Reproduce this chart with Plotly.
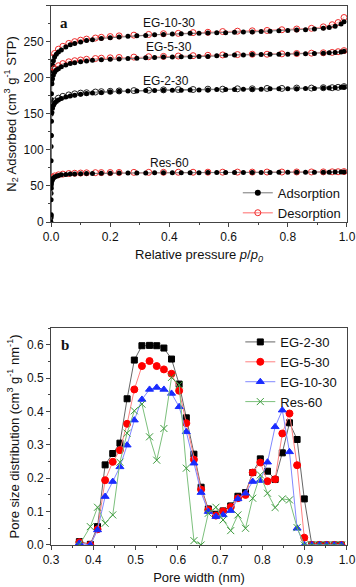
import plotly.graph_objects as go

# ---- panel a: N2 isotherms ----
p_ads = [0.00001, 0.0001, 0.0003, 0.0008, 0.0015, 0.003, 0.005, 0.008, 0.012, 0.018,
         0.025, 0.035, 0.05, 0.065, 0.08, 0.10, 0.12, 0.14, 0.17, 0.20, 0.23, 0.26,
         0.29, 0.32, 0.35, 0.38, 0.41, 0.44, 0.47, 0.50, 0.53, 0.56, 0.59, 0.62, 0.65,
         0.68, 0.71, 0.74, 0.77, 0.80, 0.83, 0.86, 0.89, 0.92, 0.94, 0.96, 0.98, 0.99]
ads_eg10 = [10, 60, 120, 170, 195, 210, 218, 224, 229, 233, 236, 239, 243, 246, 248, 250,
            252, 253, 255, 256, 257, 258, 258.5, 259, 260, 260.5, 261, 261.5, 262, 262,
            262.5, 263, 263, 263.5, 264, 264, 264.5, 265, 265.5, 266, 266.5, 267, 268,
            269, 270, 272, 275, 278]
ads_eg5 = [8, 50, 105, 150, 178, 192, 199, 204, 208, 211, 213, 215.5, 218, 220, 221, 222.5,
           223.5, 224.5, 225.5, 226, 226.5, 227, 227.5, 228, 228.5, 229, 229, 229.5, 229.5,
           230, 230, 231, 231.5, 232, 232, 232.5, 232.5, 233, 233, 233, 233.5, 233.5, 234,
           234.5, 235, 235.5, 236, 237]
ads_eg2 = [6, 40, 85, 120, 140, 152, 158, 162, 165, 167.5, 169.5, 171.5, 173.5, 175, 176,
           177.5, 178.5, 179, 180, 181, 181.5, 182, 182, 182.5, 182.5, 183, 183, 183, 183.5,
           183.5, 183.5, 184, 184, 184, 184.5, 184.5, 184.5, 185, 185, 185, 185, 185.5,
           185.5, 186, 186, 186.5, 187, 187.5]
ads_res = [0, 10, 31, 47, 53, 57, 59, 61, 62.5, 63.5, 64.5, 65.5, 66, 66.5, 66.8, 67, 67.2,
           67.4, 67.6, 67.8, 68, 68, 68.1, 68.2, 68.3, 68.3, 68.4, 68.4, 68.5, 68.5, 68.6,
           68.6, 68.7, 68.7, 68.8, 68.8, 68.9, 68.9, 69, 69, 69, 69.1, 69.1, 69.2, 69.2,
           69.3, 69.4, 69.5]

p_des = [0.99, 0.97, 0.95, 0.92, 0.88, 0.83, 0.78, 0.73, 0.68, 0.63, 0.58, 0.53, 0.48,
         0.43, 0.38, 0.33, 0.28, 0.23, 0.20, 0.17, 0.15, 0.12, 0.10, 0.08, 0.06, 0.04,
         0.025, 0.012, 0.005]
des_eg10 = [284, 277, 274, 271, 269, 268, 267, 266, 265.5, 265, 264.5, 263.5, 263, 262,
            261.5, 260.5, 259.5, 258.5, 257.5, 256.5, 255.5, 254, 252.5, 250.5, 248, 244,
            240, 234, 228]
des_eg5 = [238, 236.5, 235.5, 235, 234.5, 234, 233.5, 233, 233, 232.5, 232, 231.5, 231,
           230.5, 230, 229.5, 229, 228.5, 228, 227.5, 227, 226, 225, 224, 222.5, 220, 217,
           213, 208]
des_eg2 = [188, 187, 186.5, 186.5, 186, 186, 185.5, 185.5, 185, 185, 184.5, 184.5, 184, 184,
           183.5, 183, 182.5, 182, 181.5, 181, 180.5, 179.5, 179, 178, 176.5, 174.5, 172,
           168, 163]
des_res = [70, 69.8, 69.7, 69.6, 69.5, 69.5, 69.4, 69.4, 69.3, 69.3, 69.2, 69.2, 69.1, 69.1,
           69, 69, 68.9, 68.8, 68.7, 68.6, 68.5, 68.3, 68, 67.7, 67.3, 66.5, 65.5, 64, 62]

iso_names = ["EG-10-30", "EG-5-30", "EG-2-30", "Res-60"]
iso_label_pos = [(0.40, 277), (0.40, 243), (0.39, 196), (0.40, 82)]

# ---- panel b: pore size distribution ----
pore_w = [0.367, 0.393, 0.410, 0.428, 0.446, 0.463, 0.480, 0.497, 0.515, 0.533, 0.550,
          0.567, 0.585, 0.603, 0.620, 0.638, 0.655, 0.672, 0.690, 0.707, 0.725, 0.742,
          0.760, 0.777, 0.795, 0.812, 0.830, 0.847, 0.864, 0.882, 0.899, 0.917, 0.935,
          0.952, 0.970, 0.987]
psd_eg2 = [0.01, 0.002, 0.055, 0.24, 0.274, 0.305, 0.438, 0.554, 0.597, 0.598, 0.597, 0.59,
           0.557, 0.482, 0.381, 0.272, 0.173, 0.108, 0.092, 0.102, 0.117, 0.146, 0.157,
           0.217, 0.258, 0.221, 0.196, 0.276, 0.366, 0.316, 0.138, 0.0, 0.0, 0.0, 0.0, 0.0]
psd_eg5 = [0.008, 0.0, 0.047, 0.194, 0.249, 0.284, 0.363, 0.466, 0.536, 0.551, 0.536, 0.526,
           0.513, 0.462, 0.365, 0.256, 0.166, 0.105, 0.088, 0.101, 0.114, 0.140, 0.150,
           0.217, 0.247, 0.191, 0.197, 0.334, 0.394, 0.239, 0.022, 0.0, 0.0, 0.0, 0.0, 0.0]
psd_eg10 = [0.005, 0.0, 0.045, 0.145, 0.19, 0.234, 0.299, 0.374, 0.436, 0.466, 0.472, 0.466,
            0.454, 0.414, 0.339, 0.245, 0.157, 0.100, 0.085, 0.090, 0.103, 0.138, 0.155,
            0.190, 0.193, 0.248, 0.354, 0.404, 0.279, 0.05, 0.0, 0.0, 0.0, 0.0, 0.0, 0.0]
psd_res = [0.0, 0.055, 0.113, 0.065, 0.09, 0.248, 0.335, 0.402, 0.422, 0.324, 0.254, 0.349,
           0.502, 0.48, 0.23, 0.013, 0.0, 0.095, 0.113, 0.075, 0.043, 0.09, 0.05, 0.14,
           0.21, 0.155, 0.112, 0.138, 0.135, 0.052, 0.0, 0.0, 0.0, 0.0, 0.0, 0.0]

fig = go.Figure()

# isotherms: adsorption (filled) and desorption (open)
ads_sets = [ads_eg10, ads_eg5, ads_eg2, ads_res]
des_sets = [des_eg10, des_eg5, des_eg2, des_res]
des_edge = ["#ee2a2a", "#ee2a2a", "#222222", "#ee2a2a"]
des_line = ["#ff9c9c", "#ff9c9c", "#888888", "#ff9c9c"]
for i, name in enumerate(iso_names):
    fig.add_trace(go.Scatter(
        x=p_des, y=des_sets[i], mode="lines+markers",
        line=dict(color=des_line[i], width=1),
        marker=dict(symbol="circle-open", size=6, color=des_edge[i], line=dict(width=1)),
        name="Desorption", showlegend=False, xaxis="x", yaxis="y"))
    fig.add_trace(go.Scatter(
        x=p_ads, y=ads_sets[i], mode="lines+markers",
        line=dict(color="#777777", width=1),
        marker=dict(symbol="circle", size=5, color="#000000"),
        name="Adsorption", showlegend=False, xaxis="x", yaxis="y"))

# legend entries for panel a
fig.add_trace(go.Scatter(x=[None], y=[None], mode="lines+markers", name="Adsorption",
                         line=dict(color="#777777", width=1),
                         marker=dict(symbol="circle", size=6, color="#000000"),
                         legend="legend", xaxis="x", yaxis="y"))
fig.add_trace(go.Scatter(x=[None], y=[None], mode="lines+markers", name="Desorption",
                         line=dict(color="#ff9c9c", width=1.5),
                         marker=dict(symbol="circle-open", size=6, color="#ee2a2a"),
                         legend="legend", xaxis="x", yaxis="y"))

# PSD
psd_sets = [psd_eg2, psd_eg5, psd_eg10, psd_res]
psd_names = ["EG-2-30", "EG-5-30", "EG-10-30", "Res-60"]
psd_symbols = ["square", "circle", "triangle-up", "x-thin-open"]
psd_colors = ["#000000", "#ff0000", "#1a2cff", "#3c9a3c"]
psd_lines = ["#666666", "#ff8080", "#8088ff", "#7cc07c"]
psd_sizes = [6, 7, 7, 7]
for i in range(4):
    fig.add_trace(go.Scatter(
        x=pore_w, y=psd_sets[i], mode="lines+markers", name=psd_names[i],
        line=dict(color=psd_lines[i], width=1),
        marker=dict(symbol=psd_symbols[i], size=psd_sizes[i], color=psd_colors[i],
                    line=dict(width=1, color=psd_colors[i])),
        legend="legend2", xaxis="x2", yaxis="y2"))

axis_common = dict(showline=True, linecolor="#444444", linewidth=1, mirror=True,
                   ticks="outside", ticklen=4, tickcolor="#444444", showgrid=False,
                   zeroline=False, automargin=False,
                   tickfont=dict(family="Liberation Sans", size=12, color="#111"),
                   title_font=dict(family="Liberation Sans", size=13, color="#111"))

fig.update_layout(
    width=356, height=587,
    margin=dict(l=0, r=0, t=0, b=0),
    paper_bgcolor="white", plot_bgcolor="white",
    xaxis=dict(domain=[0.1433, 0.9747], anchor="y", range=[0, 1.0], dtick=0.2,
               tickformat=".1f", minor=dict(ticks="outside", ticklen=2, dtick=0.1,
                                            tickcolor="#444444"),
               title=dict(text="Relative pressure <i>p</i>/<i>p<sub>0</sub></i>", standoff=6),
               **axis_common),
    yaxis=dict(domain=[0.6218, 0.9898], anchor="x", range=[0, 300], dtick=50,
               minor=dict(ticks="outside", ticklen=2, dtick=25, tickcolor="#444444"),
               title=dict(text="N<sub>2</sub> Adsorbed (cm<sup>3</sup> g<sup>-1</sup> STP)",
                          standoff=4),
               **axis_common),
    xaxis2=dict(domain=[0.1433, 0.9747], anchor="y2", range=[0.3, 1.0], dtick=0.1,
                tickformat=".1f", minor=dict(ticks="outside", ticklen=2, dtick=0.05,
                                             tickcolor="#444444"),
                title=dict(text="Pore width (nm)", standoff=6),
                **axis_common),
    yaxis2=dict(domain=[0.0716, 0.4412], anchor="x2", range=[0, 0.65], dtick=0.1,
                tickformat=".1f", minor=dict(ticks="outside", ticklen=2, dtick=0.05,
                                             tickcolor="#444444"),
                title=dict(text="Pore size distribution (cm<sup>3</sup> g<sup>-1</sup> nm<sup>-1</sup>)",
                           standoff=4),
                **axis_common),
    legend=dict(x=0.668, y=0.697, xanchor="left", yanchor="top", bgcolor="rgba(0,0,0,0)",
                font=dict(family="Liberation Sans", size=13, color="#111"),
                itemwidth=30, tracegroupgap=0),
    legend2=dict(x=0.675, y=0.443, xanchor="left", yanchor="top", bgcolor="rgba(0,0,0,0)",
                 font=dict(family="Liberation Sans", size=13, color="#111"),
                 itemwidth=30, tracegroupgap=0),
)

# sample labels on the isotherms
for name, (px_, py_) in zip(iso_names, iso_label_pos):
    fig.add_annotation(x=px_, y=py_, xref="x", yref="y", text=name, showarrow=False,
                       font=dict(family="Liberation Sans", size=12, color="#111"))

# panel letters
fig.add_annotation(x=0.025, y=276, xref="x", yref="y", text="<b>a</b>", showarrow=False,
                   xanchor="left", font=dict(family="Liberation Serif", size=15, color="#111"))
fig.add_annotation(x=0.318, y=0.6, xref="x2", yref="y2", text="<b>b</b>", showarrow=False,
                   xanchor="left", font=dict(family="Liberation Serif", size=15, color="#111"))

# page body has a default 8px margin; remove it so the figure sits at the window corner
fig.write_html("out.html", config={"displayModeBar": False},
               post_script="document.body.style.margin='0px';")
